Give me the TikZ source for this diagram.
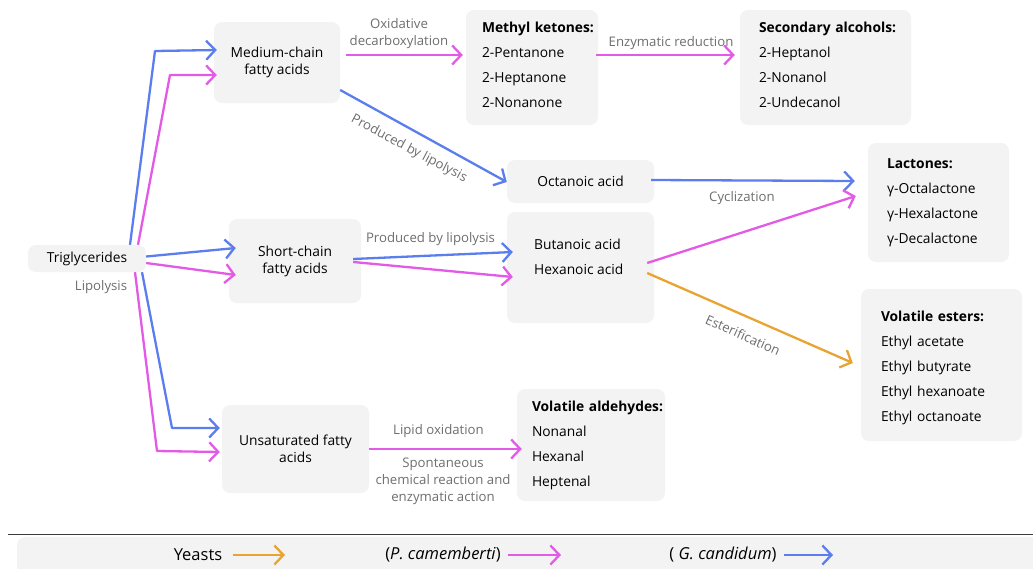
\documentclass[tikz,border=0pt]{standalone}
\usepackage{fontspec}
\setmainfont{Open Sans}
\usetikzlibrary{arrows.meta}
\definecolor{cblue}{HTML}{5B7DEE}
\definecolor{cpink}{HTML}{E35AE6}
\definecolor{corange}{HTML}{E9A331}
\definecolor{boxgray}{HTML}{F3F3F3}
\definecolor{labgray}{HTML}{6E6E6E}
\definecolor{rulegray}{HTML}{3C3C3C}
\newcommand{\nohy}{\hyphenpenalty=10000\exhyphenpenalty=10000\hbadness=10000\hfuzz=100pt}
\newcommand{\listhead}[1]{\mbox{\textbf{#1}}}
\tikzset{
  box/.style={fill=boxgray, rounded corners=8pt, align=center,
    font=\fontsize{13.8}{17}\selectfont, text=black, inner sep=0pt},
  listbox/.style={fill=boxgray, rounded corners=8pt, align=left,
    font=\nohy\fontsize{13.8}{25}\selectfont, text=black, inner ysep=0pt},
  lbl/.style={text=labgray, font=\fontsize{13.2}{17}\selectfont, align=center, inner sep=0pt},
  flow/.style={line width=2.3pt, line join=round,
    -{Straight Barb[length=9pt,width=19pt,line width=2.3pt]}},
  legtext/.style={font=\fontsize{16.5}{20}\selectfont, text=black, inner sep=0pt},
}
\begin{document}
\begin{tikzpicture}[x=1pt,y=-1pt]
\useasboundingbox (0,0) rectangle (1033,568);

% ---- source and intermediate boxes ----
\node[box, minimum width=118, minimum height=27] (trig) at (87,258.5) {Triglycerides};
\node[box, minimum width=126, minimum height=81] (mc) at (277,62.5) {Medium-chain\\fatty acids};
\node[box, minimum width=132, minimum height=84] (sc) at (295,261) {Short-chain\\fatty acids};
\node[box, minimum width=147, minimum height=88] (uf) at (295.5,449) {Unsaturated fatty\\acids};
\node[box, minimum width=147, minimum height=43] (oct) at (580.5,181.5) {Octanoic acid};
\node[box, minimum width=147, minimum height=111] (acid) at (580.5,267.5) {};
\node[anchor=west, align=left, inner sep=0pt, font=\fontsize{13.8}{25}\selectfont] (acidtxt) at (534,256.5) {Butanoic acid\\Hexanoic acid};

% ---- product lists ----
\node[listbox, minimum width=132, minimum height=115, text width=100, inner xsep=16, text depth=81.3pt] (mk) at (532,67.5)
  {\listhead{Methyl ketones:}\\2-Pentanone\\2-Heptanone\\2-Nonanone};
\node[listbox, minimum width=171, minimum height=115, text width=133, inner xsep=19, text depth=81.3pt] (sa) at (825.5,67.5)
  {\listhead{Secondary alcohols:}\\2-Heptanol\\2-Nonanol\\2-Undecanol};
\node[listbox, minimum width=141, minimum height=119, text width=103, inner xsep=19] (lac) at (938.5,202.5)
  {\listhead{Lactones:}\\γ-Octalactone\\γ-Hexalactone\\γ-Decalactone};
\node[listbox, minimum width=161, minimum height=152, text width=121, inner xsep=20, text height=16pt] (est) at (941.5,365)
  {\listhead{Volatile esters:}\\Ethyl acetate\\Ethyl butyrate\\Ethyl hexanoate\\Ethyl octanoate};
\node[listbox, minimum width=148, minimum height=112, text width=118, inner xsep=15] (ald) at (591,445)
  {\listhead{Volatile aldehydes:}\\Nonanal\\Hexanal\\Heptenal};

% ---- bend points of the lipolysis routes ----
\coordinate (bUp) at (155,51);
\coordinate (pUp) at (170,75);
\coordinate (bDn) at (172,428);
\coordinate (pDn) at (157,451);

% ---- lipolysis of triglycerides ----
\draw[flow, cblue] ([xshift=43pt]trig.north) -- (bUp) -- ([xshift=3pt,yshift=12.5pt]mc.west);
\draw[flow, cpink] ([xshift=51pt]trig.north) -- (pUp) -- ([xshift=3pt,yshift=-12.5pt]mc.west);
\draw[flow, cblue] ([xshift=55pt]trig.south) -- (bDn) -- ([xshift=-2pt,yshift=21pt]uf.west);
\draw[flow, cpink] ([xshift=48pt]trig.south) -- (pDn) -- ([xshift=-2pt,yshift=-3pt]uf.west);
\draw[flow, cblue] ([yshift=2pt]trig.east) -- ([xshift=7pt,yshift=13pt]sc.west);
\draw[flow, cpink] ([yshift=-4.5pt]trig.east) -- ([xshift=7pt,yshift=-14pt]sc.west);
\node[lbl] (lipo) at (101,287) {Lipolysis};

% ---- medium-chain fatty acids ----
\draw[flow, cpink] ([xshift=6pt,yshift=7.5pt]mc.east) -- ([xshift=-3pt,yshift=12.5pt]mk.west);
\node[lbl] (oxlbl) at (399,33.5) {Oxidative\\decarboxylation};
\draw[flow, cblue] ([yshift=-27.5pt]mc.east) -- ([yshift=-0.5pt]oct.west);
\node[lbl, rotate=-28] (plbl1) at (409,149) {Produced by lipolysis};

% ---- methyl ketones to secondary alcohols ----
\draw[flow, cpink] ([xshift=-2pt,yshift=12.5pt]mk.east) -- ([xshift=-5pt,yshift=12.5pt]sa.west);
\node[lbl] (enzlbl) at (671,43) {Enzymatic reduction};

% ---- short-chain fatty acids ----
\draw[flow, cblue] ([xshift=-8pt,yshift=2pt]sc.east) -- ([xshift=6pt,yshift=15.5pt]acid.west);
\draw[flow, cpink] ([xshift=-8pt,yshift=-1pt]sc.east) -- ([xshift=6pt,yshift=-9.5pt]acid.west);
\node[lbl] (plbl2) at (430.5,239) {Produced by lipolysis};

% ---- cyclization and esterification ----
\draw[flow, cblue] ([xshift=-3pt,yshift=1.5pt]oct.east) -- ([xshift=-13pt,yshift=21.5pt]lac.west);
\draw[flow, cpink] ([xshift=-7pt,yshift=4.5pt]acid.east) -- ([xshift=-12pt,yshift=6.5pt]lac.west);
\node[lbl] (cyclbl) at (742,198) {Cyclization};
\draw[flow, corange] ([xshift=-7pt,yshift=-5.5pt]acid.east) -- ([xshift=-8pt,yshift=2pt]est.west);
\node[lbl, rotate=-24] (estlbl) at (743,335) {Esterification};

% ---- unsaturated fatty acids ----
\draw[flow, cpink] (uf.east) -- ([xshift=5pt,yshift=-4pt]ald.west);
\node[lbl] (oxid) at (438.5,431) {Lipid oxidation};
\node[lbl] (spont) at (443,481.5) {Spontaneous\\chemical reaction and\\enzymatic action};

% ---- legend ----
\draw[line width=1.5pt, rulegray] (8,534.5) -- (1033,534.5);
\fill[boxgray, rounded corners=8pt] (17,537) rectangle (1045,580);
\node[legtext] (lyeast) at (198,555) {Yeasts};
\node[legtext] (lpen) at (443,555) {(\textit{P. camemberti})};
\node[legtext] (lgeo) at (723,555) {( \textit{G. candidum})};
\coordinate (eyeast) at (285,555);
\coordinate (epen) at (561,555);
\coordinate (egeo) at (833,555);
\draw[flow, corange] ([xshift=11pt]lyeast.east) -- (eyeast);
\draw[flow, cpink] ([xshift=7pt]lpen.east) -- (epen);
\draw[flow, cblue] ([xshift=7pt]lgeo.east) -- (egeo);
\end{tikzpicture}
\end{document}
